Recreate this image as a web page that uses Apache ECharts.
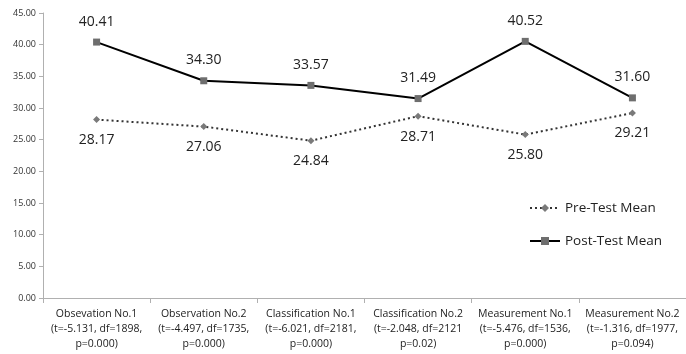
<!DOCTYPE html>
<html>
<head>
<meta charset="utf-8">
<script src="https://cdn.jsdelivr.net/npm/echarts@6/dist/echarts.min.js"></script>
<style>
  html, body { margin: 0; padding: 0; background: #fff; }
  #chart { width: 686px; height: 354px; }
</style>
</head>
<body>
<div id="chart"></div>
<script>
// Test categories with their t-test statistics
const categories = [
  'Obsevation No.1\n(t=-5.131, df=1898,\np=0.000)',
  'Observation No.2\n(t=-4.497, df=1735,\np=0.000)',
  'Classification No.1\n(t=-6.021, df=2181,\np=0.000)',
  'Classification No.2\n(t=-2.048, df=2121\np=0.02)',
  'Measurement No.1\n(t=-5.476, df=1536,\np=0.000)',
  'Measurement No.2\n(t=-1.316, df=1977,\np=0.094)'
];
const preTestMean = [28.17, 27.06, 24.84, 28.71, 25.80, 29.21];
const postTestMean = [40.41, 34.30, 33.57, 31.49, 40.52, 31.60];
const yTicks = { min: 0, max: 45, interval: 5 };

const FONT = 'Open Sans';

const chart = echarts.init(document.getElementById('chart'), null, { renderer: 'canvas' });
chart.setOption({
  animation: false,
  textStyle: { fontFamily: FONT },
  grid: { left: 43, right: -1, top: 13, bottom: 56 },
  legend: {
    orient: 'vertical',
    left: 524,
    top: 196,
    itemGap: 19,
    itemWidth: 30,
    itemHeight: 10,
    textStyle: { fontFamily: FONT, fontSize: 13.5, color: '#222' },
    data: ['Pre-Test Mean', 'Post-Test Mean']
  },
  xAxis: {
    type: 'category',
    data: categories,
    boundaryGap: true,
    axisLine: { lineStyle: { color: '#b0b0b0', width: 1 } },
    axisTick: { show: true, length: 5, lineStyle: { color: '#b0b0b0' } },
    axisLabel: {
      interval: 0,
      margin: 9,
      fontFamily: FONT,
      fontSize: 10.5,
      lineHeight: 15,
      color: '#222'
    }
  },
  yAxis: {
    type: 'value',
    min: yTicks.min,
    max: yTicks.max,
    interval: yTicks.interval,
    splitLine: { show: false },
    axisLine: { show: true, lineStyle: { color: '#b0b0b0', width: 1 } },
    axisTick: { show: true, length: 4, lineStyle: { color: '#b0b0b0' } },
    axisLabel: {
      margin: 7,
      fontFamily: FONT,
      fontSize: 9,
      color: '#333',
      formatter: v => v.toFixed(2)
    }
  },
  series: [
    {
      name: 'Pre-Test Mean',
      type: 'line',
      data: preTestMean,
      symbol: 'diamond',
      symbolSize: 7,
      itemStyle: { color: '#7a7a7a' },
      lineStyle: { color: '#333', width: 2, type: [2, 3] },
      label: {
        show: true,
        position: 'bottom',
        distance: 10,
        fontFamily: FONT,
        fontSize: 14,
        color: '#222',
        formatter: p => p.value.toFixed(2)
      }
    },
    {
      name: 'Post-Test Mean',
      type: 'line',
      data: postTestMean,
      symbol: 'rect',
      symbolSize: 7,
      itemStyle: { color: '#6e6e6e' },
      lineStyle: { color: '#000', width: 2 },
      label: {
        show: true,
        position: 'top',
        distance: 10,
        fontFamily: FONT,
        fontSize: 14,
        color: '#222',
        formatter: p => p.value.toFixed(2)
      }
    }
  ]
});
</script>
</body>
</html>
